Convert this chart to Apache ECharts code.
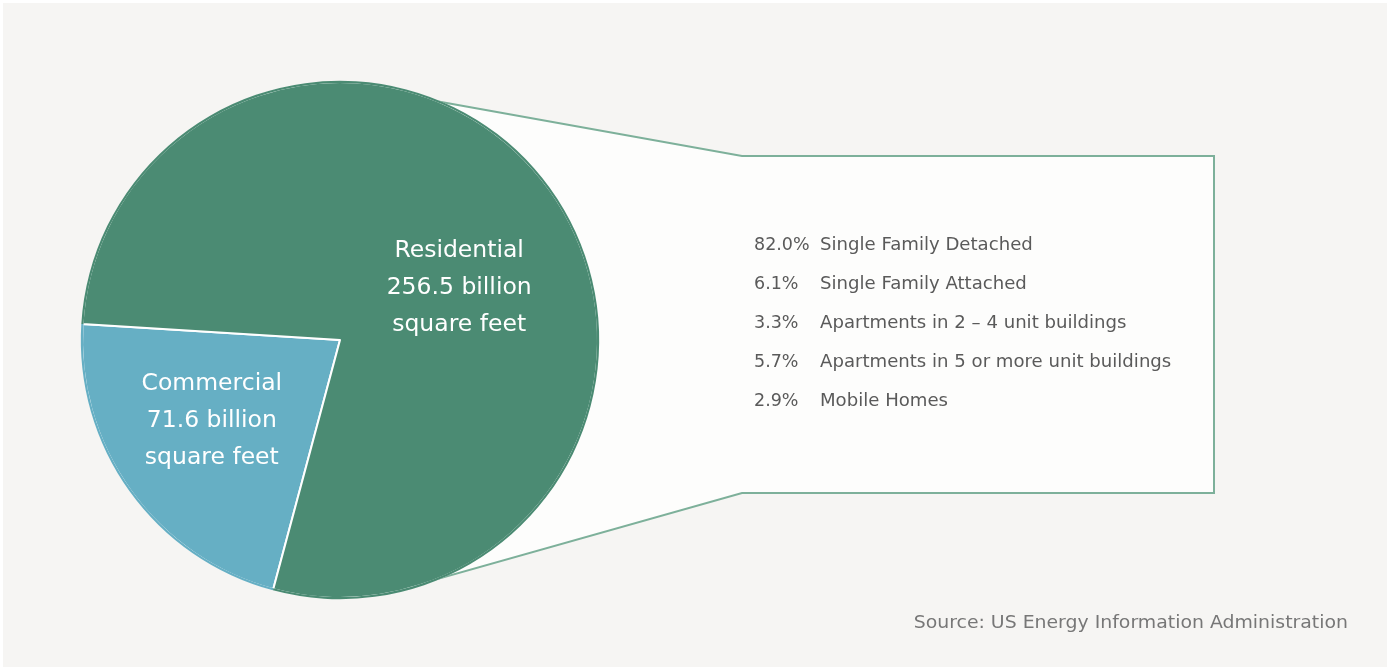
<!DOCTYPE html>
<html>
	<head>
		<meta charset="UTF-8">
		<title>Floor space</title>
		<script type="text/javascript" src="https://cdn.jsdelivr.net/npm/echarts@6/dist/echarts.min.js"></script>
		<style>
			body{margin:0;background:#fff;}
		</style>
	</head>
	<body>
		<div id="main" style="width: 1390px;height: 670px;"></div>
		<script type="text/javascript">
			// main split, billion square feet
			var sectors=['Commercial','Residential'];
			var sectorValues=[71.6,256.5];
			var sectorColors=['#66afc4','#4b8b73'];

			// residential breakdown shown in the callout box
			var subPct=['82.0%','6.1%','3.3%','5.7%','2.9%'];
			var subNames=['Single Family Detached','Single Family Attached','Apartments in 2 \u2013 4 unit buildings','Apartments in 5 or more unit buildings','Mobile Homes'];

			var sourceText='Source: US Energy Information Administration';

			var cx=340,cy=340,r=258;
			var font='DejaVu Sans';
			var stretch=1.065; // reference face is wider than anything installed

			var myChart=echarts.init(document.getElementById('main'));

			var graphics=[
				{type:'rect',z:-10,shape:{x:3,y:3,width:1384,height:664},style:{fill:'#f6f5f3'}},
				// callout box, sits under the pie
				{type:'polygon',z:-5,
					shape:{points:[[430,100],[742,156],[1214,156],[1214,493],[742,493],[388,593]]},
					style:{fill:'#fdfdfc',stroke:'#7db09a',lineWidth:2}}
			];
			subPct.forEach(function(p,i){
				var y=246+i*38.8;
				graphics.push({type:'text',x:754,y:y,scaleX:1.03,style:{text:p,font:'17px "'+font+'"',fill:'#5a5a5a',verticalAlign:'middle'}});
				graphics.push({type:'text',x:820,y:y,scaleX:stretch,style:{text:subNames[i],font:'17px "'+font+'"',fill:'#5a5a5a',verticalAlign:'middle'}});
			});
			graphics.push({type:'text',x:1348,y:624,scaleX:1.11,style:{text:sourceText,font:'17px "'+font+'"',fill:'#777',align:'right',verticalAlign:'middle'}});

			var labelShift=[[-21,4],[12,25]];

			var pieData=sectors.map(function(s,i){
				return {name:s,value:sectorValues[i],itemStyle:{color:sectorColors[i]}};
			});

			var option={
				backgroundColor:'#fff',
				animation:false,
				graphic:graphics,
				series:[{
					type:'pie',
					center:[cx,cy],
					radius:[0,r],
					startAngle:255,
					clockwise:true,
					itemStyle:{borderColor:'#fff',borderWidth:2},
					label:{
						show:true,
						position:'inner',
						color:'#fff',
						fontFamily:font,
						fontSize:23.5,
						lineHeight:37,
						formatter:function(p){
							return p.name+'\n'+p.value+' billion\nsquare feet';
						}
					},
					labelLine:{show:false},
					labelLayout:function(p){
						return {dx:labelShift[p.dataIndex][0],dy:labelShift[p.dataIndex][1]};
					},
					emphasis:{disabled:true},
					data:pieData
				},{
					// thin rim in the slice colours, hides the white border on the outer arc
					type:'pie',
					center:[cx,cy],
					radius:[r-1,r+1.2],
					startAngle:255,
					clockwise:true,
					silent:true,
					itemStyle:{borderWidth:0},
					label:{show:false},
					labelLine:{show:false},
					emphasis:{disabled:true},
					data:pieData
				}]
			};

			myChart.setOption(option);
		</script>
	</body>
</html>
